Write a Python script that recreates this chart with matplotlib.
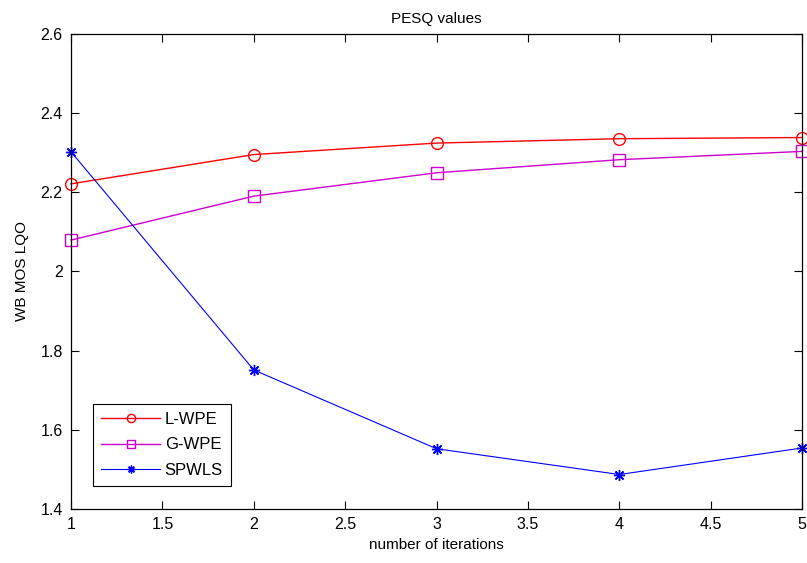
import matplotlib
matplotlib.use("Agg")
import matplotlib.pyplot as plt

# data
iterations = [1, 2, 3, 4, 5]
l_wpe = [2.221, 2.295, 2.324, 2.335, 2.338]
g_wpe = [2.079, 2.190, 2.249, 2.282, 2.303]
spwls = [2.302, 1.751, 1.552, 1.487, 1.554]

x_ticks = [1, 1.5, 2, 2.5, 3, 3.5, 4, 4.5, 5]
x_tick_labels = ["1", "1.5", "2", "2.5", "3", "3.5", "4", "4.5", "5"]
y_ticks = [1.4, 1.6, 1.8, 2.0, 2.2, 2.4, 2.6]
y_tick_labels = ["1.4", "1.6", "1.8", "2", "2.2", "2.4", "2.6"]

plt.rcParams.update(
    {
        "font.family": ["Liberation Sans", "DejaVu Sans"],
        "font.size": 11,
        "xtick.direction": "in",
        "ytick.direction": "in",
        "xtick.top": True,
        "ytick.right": True,
    }
)

fig = plt.figure(figsize=(8.07, 5.63), dpi=100)
ax = fig.add_axes([0.088, 0.096, 0.906, 0.844])

# MATLAB-like asterisk: plus and cross combined
asterisk = (8, 2, 0)

ax.plot(iterations, l_wpe, color="#ff0000", marker="o", markersize=8.5,
        markerfacecolor="none", linewidth=1.0, label="L-WPE", clip_on=False)
ax.plot(iterations, g_wpe, color="#cc00cc", marker="s", markersize=8.5,
        markerfacecolor="none", linewidth=1.0, label="G-WPE", clip_on=False)
ax.plot(iterations, spwls, color="#0000ff", marker=asterisk, markersize=8,
        markeredgewidth=1.0, linewidth=0.8, label="SPWLS", clip_on=False)

ax.set_xlim(1, 5)
ax.set_ylim(1.4, 2.6)
ax.set_xticks(x_ticks)
ax.set_xticklabels(x_tick_labels)
ax.set_yticks(y_ticks)
ax.set_yticklabels(y_tick_labels)
ax.tick_params(length=6, width=0.8, labelsize=11.5, pad=6)
for s in ax.spines.values():
    s.set_linewidth(0.9)

ax.set_xlabel("number of iterations", fontsize=11, labelpad=4)
ax.set_ylabel("WB MOS LQO", fontsize=11, labelpad=8)
ax.set_title("PESQ values", fontsize=11, pad=8)

leg = ax.legend(loc="lower left", bbox_to_anchor=(0.0301, 0.048), fancybox=False,
                framealpha=1, edgecolor="black", fontsize=12,
                handlelength=3.5, handletextpad=0.3, borderpad=0.5,
                borderaxespad=0, labelspacing=0.62, markerscale=0.7)
leg.get_frame().set_linewidth(0.8)

fig.savefig("out.png", dpi=100)
